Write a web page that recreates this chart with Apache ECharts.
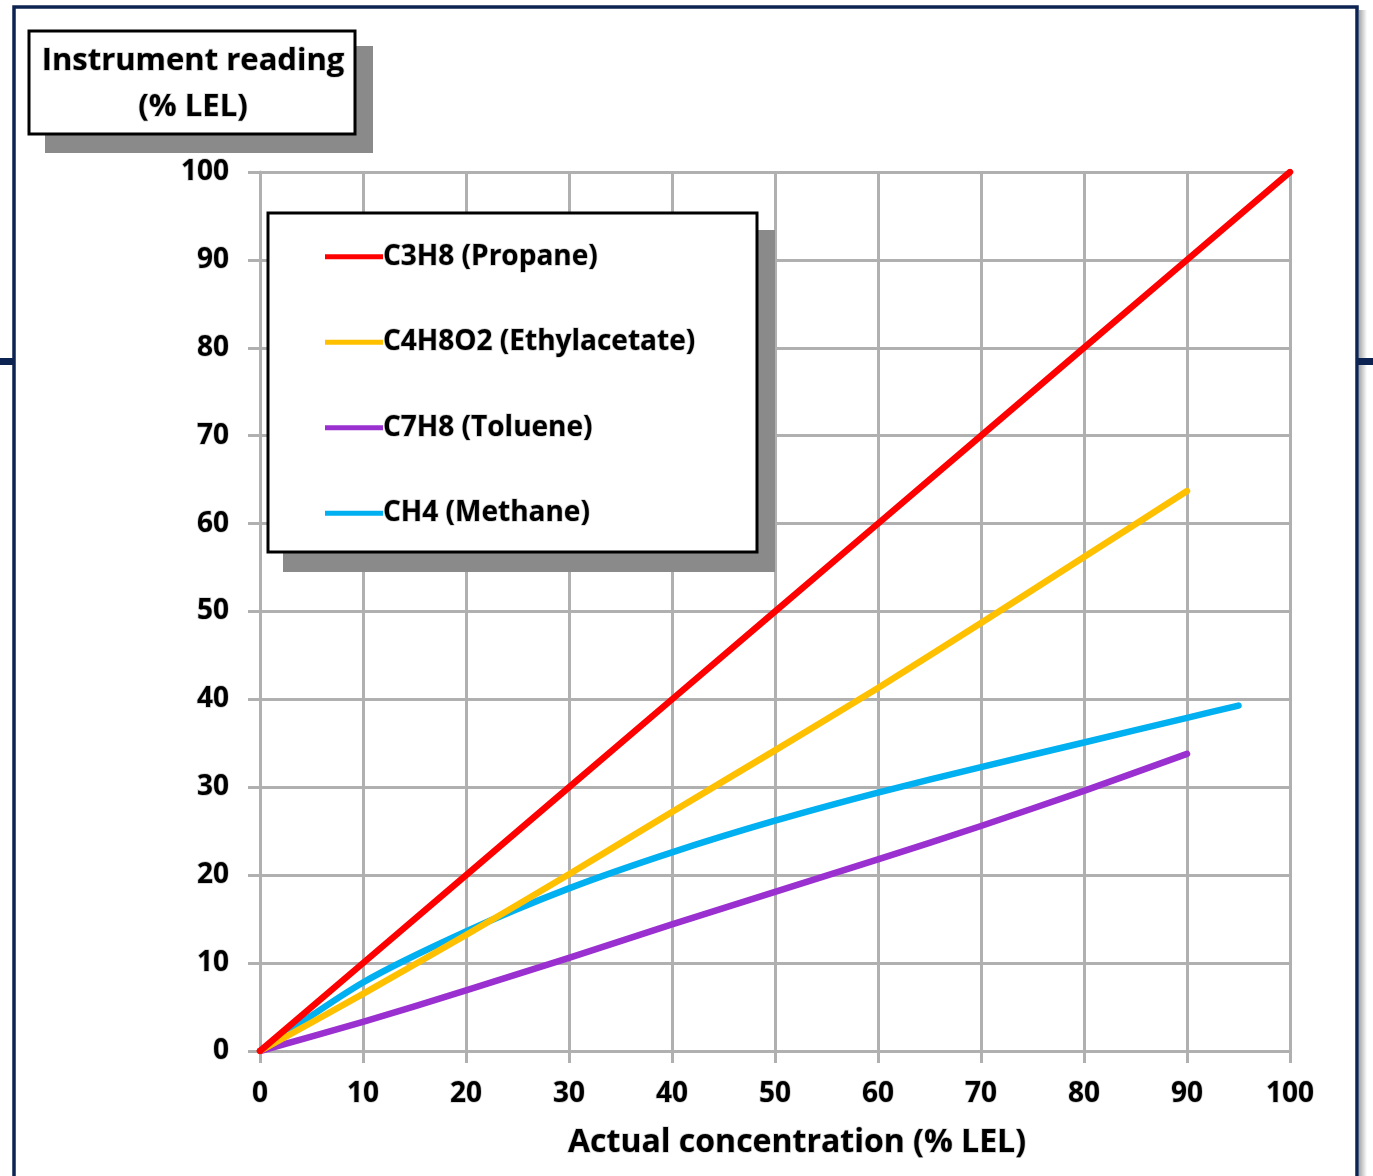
<!DOCTYPE html>
<html>
<head>
<meta charset="utf-8">
<script src="https://cdn.jsdelivr.net/npm/echarts@6/dist/echarts.min.js"></script>
<style>
html,body{margin:0;padding:0;background:#fff;}
#chart{width:1373px;height:1176px;}
</style>
</head>
<body>
<div id="chart"></div>
<script>
// ---- data ----
var xTicks = [0, 10, 20, 30, 40, 50, 60, 70, 80, 90, 100];
var yTicks = [0, 10, 20, 30, 40, 50, 60, 70, 80, 90, 100];
var seriesNames = ['C3H8 (Propane)', 'C4H8O2 (Ethylacetate)', 'C7H8 (Toluene)', 'CH4 (Methane)'];
var propaneX = [0, 10, 20, 30, 40, 50, 60, 70, 80, 90, 100];
var propaneY = [0, 10, 20, 30, 40, 50, 60, 70, 80, 90, 100];
var ethylX = [0, 10, 20, 30, 40, 50, 60, 70, 80, 90];
var ethylY = [0, 6.5, 13.2, 20.1, 27.2, 34.2, 41.3, 48.7, 56.2, 63.7];
var tolueneX = [0, 10, 20, 30, 40, 50, 60, 70, 80, 90];
var tolueneY = [0, 3.3, 6.9, 10.6, 14.4, 18.1, 21.8, 25.6, 29.6, 33.8];
var methaneX = [0, 10, 20, 30, 40, 50, 60, 70, 80, 90, 95];
var methaneY = [0, 7.8, 13.6, 18.5, 22.6, 26.2, 29.4, 32.3, 35.1, 37.9, 39.3];
var colors = ['#ff0000', '#ffc000', '#9b30d0', '#00b0f0'];

function pairs(xs, ys) { return xs.map(function (x, i) { return [x, ys[i]]; }); }

var FONT = '"Open Sans"';
var chart = echarts.init(document.getElementById('chart'), null, { renderer: 'canvas' });

var seriesData = [pairs(propaneX, propaneY), pairs(ethylX, ethylY), pairs(tolueneX, tolueneY), pairs(methaneX, methaneY)];

var series = seriesNames.map(function (name, i) {
  return {
    name: name,
    type: 'line',
    data: seriesData[i],
    smooth: i === 0 ? false : 0.25,
    showSymbol: false,
    symbol: 'none',
    lineStyle: { color: colors[i], width: 6.5, cap: 'round', join: 'round' },
    itemStyle: { color: colors[i] },
    z: 10 - i,
    animation: false
  };
});

var labelStyle = { fontFamily: FONT, fontWeight: 'bold', fontSize: 28, color: '#000',
  textBorderColor: 'rgba(190,190,190,0.7)', textBorderWidth: 1.5 };

var option = {
  animation: false,
  backgroundColor: '#ffffff',
  grid: { left: 260, top: 172, width: 1030, height: 879 },
  xAxis: {
    type: 'value', min: 0, max: 100, interval: 10,
    axisLine: { show: true, lineStyle: { color: '#b0b0b0', width: 3 } },
    axisTick: { show: true, length: 12, lineStyle: { color: '#b0b0b0', width: 3 } },
    splitLine: { show: true, lineStyle: { color: '#b0b0b0', width: 3 } },
    axisLabel: Object.assign({ margin: 29 }, labelStyle)
  },
  yAxis: {
    type: 'value', min: 0, max: 100, interval: 10,
    axisLine: { show: true, lineStyle: { color: '#b0b0b0', width: 3 } },
    axisTick: { show: true, length: 12, lineStyle: { color: '#b0b0b0', width: 3 } },
    splitLine: { show: true, lineStyle: { color: '#b0b0b0', width: 3 } },
    axisLabel: Object.assign({ margin: 31 }, labelStyle)
  },
  legend: {
    show: true,
    orient: 'vertical',
    left: 325, top: 242,
    itemWidth: 58, itemHeight: 32, itemGap: 56,
    padding: 0,
    data: seriesNames.map(function (n, i) {
      return { name: n, icon: 'path://M0,0 L58,0 L58,5 L0,5 Z', itemStyle: { color: colors[i] } };
    }),
    textStyle: { fontFamily: FONT, fontWeight: 'bold', fontSize: 28, color: '#000', padding: [0, 0, 0, -5],
      textBorderColor: 'rgba(190,190,190,0.7)', textBorderWidth: 1.5 },
    z: 30
  },
  graphic: [
    // outer frame shadow
    { type: 'rect', shape: { x: 1359, y: 10, width: 8, height: 1180 },
      style: { fill: new echarts.graphic.LinearGradient(0, 0, 1, 0, [{ offset: 0, color: 'rgba(0,0,0,0.35)' }, { offset: 1, color: 'rgba(0,0,0,0)' }]) }, z: 1 },
    // outer frame
    { type: 'rect', shape: { x: 14, y: 7, width: 1343, height: 1190 },
      style: { fill: 'none', stroke: '#0d2352', lineWidth: 3.5 }, z: 2 },
    { type: 'rect', shape: { x: 0, y: 358, width: 14, height: 7 }, style: { fill: '#0d2352' }, z: 2 },
    { type: 'rect', shape: { x: 1357, y: 358, width: 16, height: 7 }, style: { fill: '#0d2352' }, z: 2 },
    // title box shadow + box
    { type: 'rect', shape: { x: 45, y: 46, width: 328, height: 107 }, style: { fill: '#8a8a8a' }, z: 20 },
    { type: 'rect', shape: { x: 29, y: 31, width: 326, height: 103 },
      style: { fill: '#ffffff', stroke: '#000', lineWidth: 3 }, z: 21 },
    { type: 'text', x: 193, y: 61, z: 22,
      style: { text: 'Instrument reading', fill: '#000', font: 'bold 31px ' + FONT, align: 'center', verticalAlign: 'middle',
        stroke: 'rgba(190,190,190,0.7)', lineWidth: 1.5 } },
    { type: 'text', x: 193, y: 107, z: 22,
      style: { text: '(% LEL)', fill: '#000', font: 'bold 31px ' + FONT, align: 'center', verticalAlign: 'middle',
        stroke: 'rgba(190,190,190,0.7)', lineWidth: 1.5 } },
    // legend box shadow + box
    { type: 'rect', shape: { x: 283, y: 230, width: 492, height: 342 }, style: { fill: '#8a8a8a' }, z: 20 },
    { type: 'rect', shape: { x: 268, y: 213, width: 489, height: 339 },
      style: { fill: '#ffffff', stroke: '#000', lineWidth: 3 }, z: 21 },
    // x axis name
    { type: 'text', x: 797, y: 1143, z: 22,
      style: { text: 'Actual concentration (% LEL)', fill: '#000', font: 'bold 32px ' + FONT, align: 'center', verticalAlign: 'middle',
        stroke: 'rgba(190,190,190,0.7)', lineWidth: 1.5 } }
  ],
  series: series
};
chart.setOption(option);
</script>
</body>
</html>
